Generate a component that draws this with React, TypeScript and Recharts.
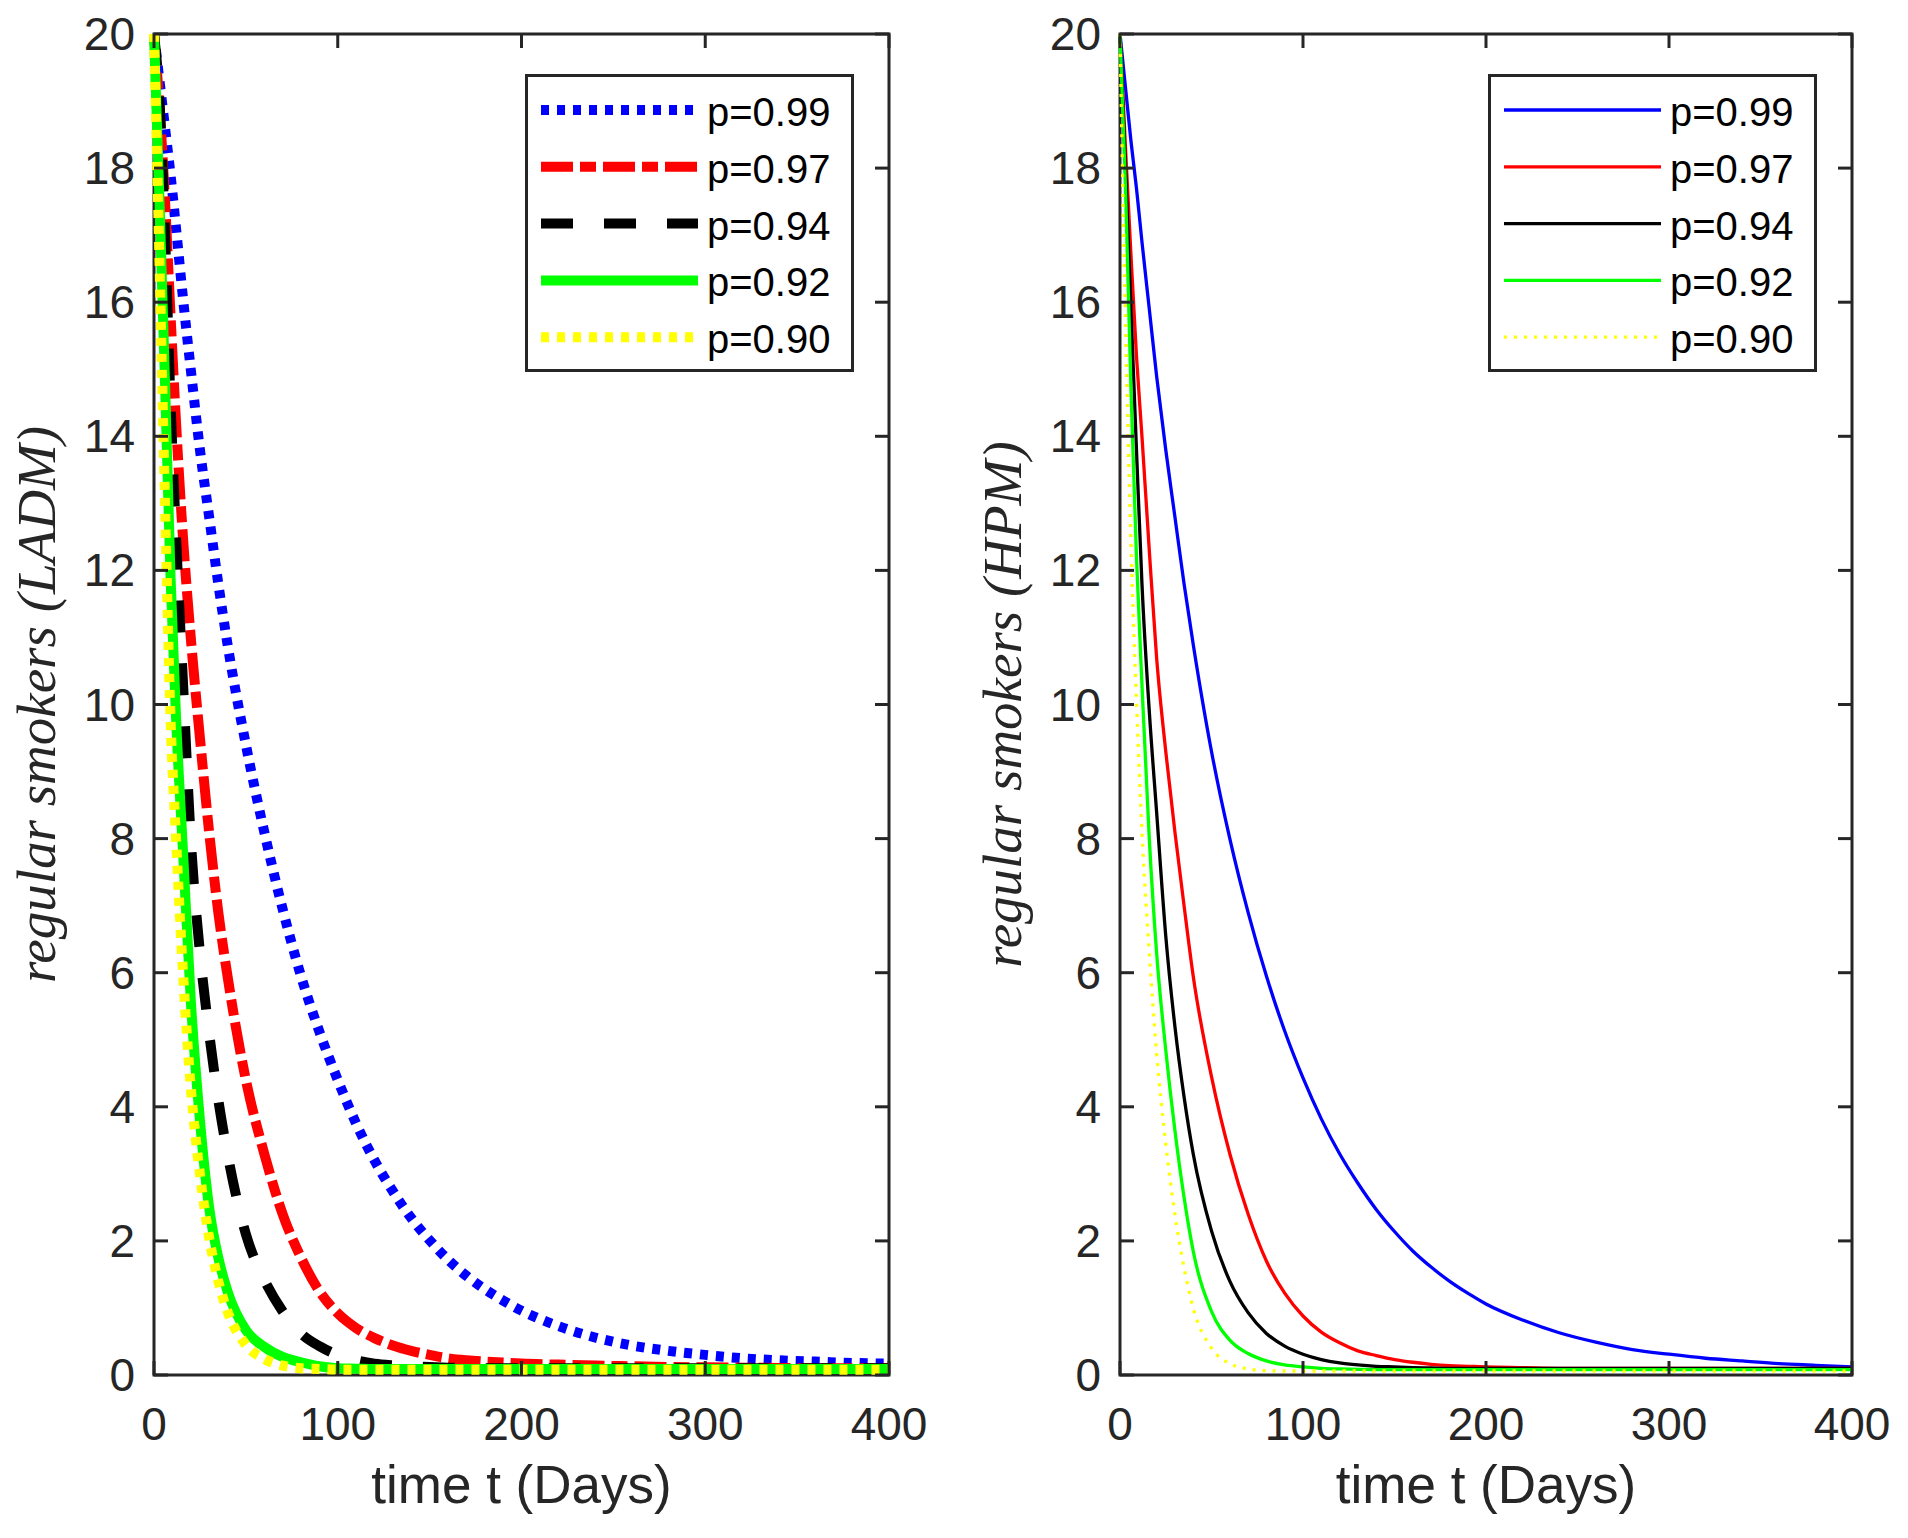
import { LineChart, Line, XAxis, YAxis, ReferenceArea, Legend, Label } from "recharts";

// time grid (days) shared by every curve
const DAYS = [0, 3, 6, 9, 12, 16, 20, 25, 30, 35, 40, 50, 60, 70, 80, 90, 100, 110, 120, 130, 140, 150, 160, 170, 180, 190, 200, 220, 240, 260, 280, 300, 320, 340, 360, 380, 400];

// left panel: LADM
const LADM_P99 = [20, 19.3, 18.6, 17.9, 17.1, 16.0, 15.0, 13.8, 12.8, 11.8, 10.9, 9.4, 8.1, 6.95, 5.95, 5.12, 4.4, 3.75, 3.2, 2.74, 2.34, 2.01, 1.72, 1.48, 1.28, 1.11, 0.96, 0.73, 0.56, 0.44, 0.36, 0.3, 0.25, 0.22, 0.2, 0.18, 0.17];
const LADM_P97 = [20, 18.9, 17.5, 15.8, 14.2, 12.4, 11.0, 9.5, 8.1, 6.9, 5.95, 4.4, 3.3, 2.4, 1.75, 1.25, 0.92, 0.7, 0.55, 0.44, 0.36, 0.3, 0.25, 0.22, 0.2, 0.185, 0.17, 0.155, 0.14, 0.13, 0.12, 0.115, 0.11, 0.105, 0.1, 0.1, 0.1];
const LADM_P94 = [20, 19.0, 17.0, 14.5, 12.5, 10.2, 8.0, 6.3, 5.1, 4.1, 3.3, 2.1, 1.42, 0.95, 0.62, 0.43, 0.3, 0.22, 0.17, 0.145, 0.13, 0.12, 0.11, 0.105, 0.1, 0.1, 0.1, 0.1, 0.1, 0.1, 0.1, 0.1, 0.1, 0.1, 0.1, 0.1, 0.1];
const LADM_P92 = [20, 17.5, 14.8, 11.9, 9.8, 7.7, 5.6, 3.8, 2.5, 1.75, 1.25, 0.67, 0.42, 0.27, 0.19, 0.13, 0.1, 0.095, 0.09, 0.09, 0.09, 0.09, 0.09, 0.09, 0.09, 0.09, 0.09, 0.09, 0.09, 0.09, 0.09, 0.09, 0.09, 0.09, 0.09, 0.09, 0.09];
const LADM_P90 = [20, 16.6, 13.0, 9.8, 8.0, 5.9, 4.3, 3.0, 2.05, 1.4, 0.95, 0.45, 0.24, 0.14, 0.1, 0.09, 0.08, 0.08, 0.08, 0.08, 0.08, 0.08, 0.08, 0.08, 0.08, 0.08, 0.08, 0.08, 0.08, 0.08, 0.08, 0.08, 0.08, 0.08, 0.08, 0.08, 0.08];

// right panel: HPM
const HPM_P99 = [20, 19.2, 18.4, 17.7, 16.9, 15.9, 14.9, 13.8, 12.8, 11.8, 10.9, 9.3, 8.0, 6.9, 5.95, 5.13, 4.43, 3.82, 3.3, 2.86, 2.47, 2.14, 1.85, 1.61, 1.4, 1.22, 1.06, 0.82, 0.63, 0.49, 0.38, 0.31, 0.25, 0.21, 0.17, 0.145, 0.12];
const HPM_P97 = [20, 18.3, 16.7, 15.2, 14.0, 12.3, 10.7, 9.3, 8.1, 7.0, 5.95, 4.45, 3.3, 2.4, 1.7, 1.22, 0.88, 0.64, 0.48, 0.36, 0.29, 0.23, 0.19, 0.16, 0.14, 0.13, 0.12, 0.11, 0.1, 0.1, 0.1, 0.1, 0.1, 0.1, 0.1, 0.1, 0.1];
const HPM_P94 = [20, 18.0, 15.9, 13.8, 11.8, 9.9, 8.4, 6.55, 5.2, 4.15, 3.3, 2.15, 1.4, 0.93, 0.62, 0.43, 0.31, 0.23, 0.18, 0.15, 0.13, 0.12, 0.11, 0.105, 0.1, 0.1, 0.1, 0.1, 0.1, 0.1, 0.1, 0.1, 0.1, 0.1, 0.1, 0.1, 0.1];
const HPM_P92 = [20, 17.7, 14.7, 12.2, 10.3, 8.0, 6.3, 4.85, 3.65, 2.65, 1.85, 0.95, 0.52, 0.32, 0.21, 0.15, 0.12, 0.1, 0.09, 0.085, 0.08, 0.08, 0.08, 0.08, 0.08, 0.08, 0.08, 0.08, 0.08, 0.08, 0.08, 0.08, 0.08, 0.08, 0.08, 0.08, 0.08];
const HPM_P90 = [20, 15.7, 12.4, 10.05, 8.1, 6.3, 4.8, 3.45, 2.4, 1.6, 1.0, 0.4, 0.17, 0.09, 0.065, 0.06, 0.06, 0.06, 0.06, 0.06, 0.06, 0.06, 0.06, 0.06, 0.06, 0.06, 0.06, 0.06, 0.06, 0.06, 0.06, 0.06, 0.06, 0.06, 0.06, 0.06, 0.06];

const P_LABELS = ["p=0.99", "p=0.97", "p=0.94", "p=0.92", "p=0.90"];
const KEYS = ["p99", "p97", "p94", "p92", "p90"];
const COLORS = ["#0000ff", "#ff0000", "#000000", "#00ff00", "#ffff00"];
const X_TICKS = [0, 100, 200, 300, 400];
const Y_TICKS = [0, 2, 4, 6, 8, 10, 12, 14, 16, 18, 20];

const LADM_DASH = ["8 8", "32 7 16 7", "32 31", undefined, "8 8"];
const HPM_DASH = [undefined, undefined, undefined, undefined, "3 7"];

const AXIS = "#262626";
const SANS = "'Liberation Sans', Arial, Helvetica, sans-serif";
const CHART_W = 954;
const CHART_H = 1538;
const PLOT_TOP = 34;
const X_AXIS_H = 163;
const PLOT_H = CHART_H - PLOT_TOP - X_AXIS_H;
const TICK_LEN = 14;

function buildRows(series: number[][]) {
  return DAYS.map((t, i) => {
    const row: Record<string, number> = { t };
    series.forEach((s, j) => {
      row[KEYS[j]] = s[i];
    });
    return row;
  });
}

type PanelProps = {
  series: number[][];
  dashes: (string | undefined)[];
  lineWidth: number;
  yLabel: string;
  yAxisW: number;
  rightM: number;
};

function LegendBox({ dashes, lineWidth }: { dashes: (string | undefined)[]; lineWidth: number }) {
  return (
    <svg width={329} height={298} style={{ display: "block" }}>
      <rect x={1.5} y={1.5} width={326} height={295} fill="#fff" stroke={AXIS} strokeWidth={3} />
      {P_LABELS.map((lab, i) => {
        const y = 36 + i * 56.8;
        return (
          <g key={lab}>
            <line x1={16} x2={173} y1={y} y2={y} stroke={COLORS[i]} strokeWidth={lineWidth} strokeDasharray={dashes[i]} />
            <text x={182} y={y + 16} fontSize={40} fontFamily={SANS} fill="#000">
              {lab}
            </text>
          </g>
        );
      })}
    </svg>
  );
}

function Panel({ series, dashes, lineWidth, yLabel, yAxisW, rightM }: PanelProps) {
  const plotW = CHART_W - yAxisW - rightM;
  const data = buildRows(series);

  const xTick = (p: any) => (
    <g>
      <line x1={p.x} x2={p.x} y1={p.y} y2={p.y - TICK_LEN} stroke={AXIS} strokeWidth={3} />
      <line x1={p.x} x2={p.x} y1={p.y - PLOT_H} y2={p.y - PLOT_H + TICK_LEN} stroke={AXIS} strokeWidth={3} />
      <text x={p.x} y={p.y + 65} textAnchor="middle" fontSize={46} fontFamily={SANS} fill={AXIS}>
        {p.payload.value}
      </text>
    </g>
  );

  const yTick = (p: any) => (
    <g>
      <line x1={p.x} x2={p.x + TICK_LEN} y1={p.y} y2={p.y} stroke={AXIS} strokeWidth={3} />
      <line x1={p.x + plotW} x2={p.x + plotW - TICK_LEN} y1={p.y} y2={p.y} stroke={AXIS} strokeWidth={3} />
      <text x={p.x - 19} y={p.y + 16} textAnchor="end" fontSize={46} fontFamily={SANS} fill={AXIS}>
        {p.payload.value}
      </text>
    </g>
  );

  const yLabelX = yAxisW - 99;
  const yLabelY = PLOT_TOP + PLOT_H / 2;

  return (
    <LineChart width={CHART_W} height={CHART_H} data={data} margin={{ top: PLOT_TOP, right: rightM, bottom: 0, left: 0 }}>
      <ReferenceArea x1={0} x2={400} y1={0} y2={20} fill="none" fillOpacity={0} stroke={AXIS} strokeWidth={3} />
      <XAxis
        dataKey="t"
        type="number"
        domain={[0, 400]}
        ticks={X_TICKS}
        interval={0}
        height={X_AXIS_H}
        axisLine={false}
        tickLine={false}
        tickSize={0}
        tickMargin={0}
        tick={xTick}
      >
        <Label
          content={() => (
            <text x={yAxisW + plotW / 2} y={1503} textAnchor="middle" fontSize={53} fontFamily={SANS} fill={AXIS}>
              time t (Days)
            </text>
          )}
        />
      </XAxis>
      <YAxis
        type="number"
        domain={[0, 20]}
        ticks={Y_TICKS}
        interval={0}
        width={yAxisW}
        axisLine={false}
        tickLine={false}
        tickSize={0}
        tickMargin={0}
        tick={yTick}
      >
        <Label
          content={() => (
            <text
              x={yLabelX}
              y={yLabelY}
              transform={`rotate(-90, ${yLabelX}, ${yLabelY})`}
              textAnchor="middle"
              fontSize={55}
              fontStyle="italic"
              fontFamily="'Liberation Serif', 'DejaVu Serif', serif"
              fill={AXIS}
            >
              {yLabel}
            </text>
          )}
        />
      </YAxis>
      {KEYS.map((k, i) => (
        <Line
          key={k}
          type="monotone"
          dataKey={k}
          name={P_LABELS[i]}
          stroke={COLORS[i]}
          strokeWidth={lineWidth}
          strokeDasharray={dashes[i]}
          dot={false}
          activeDot={false}
          isAnimationActive={false}
        />
      ))}
      <Legend
        layout="horizontal"
        verticalAlign="middle"
        align="center"
        wrapperStyle={{ left: yAxisW + plotW - 364, top: 74, width: 329, height: 298 }}
        content={() => <LegendBox dashes={dashes} lineWidth={lineWidth} />}
      />
    </LineChart>
  );
}

export default function App() {
  return (
    <div style={{ position: "absolute", left: 0, top: 0, width: 1908, height: 1538, background: "#fff" }}>
      <div style={{ position: "absolute", left: 0, top: 0 }}>
        <Panel
          series={[LADM_P99, LADM_P97, LADM_P94, LADM_P92, LADM_P90]}
          dashes={LADM_DASH}
          lineWidth={10}
          yLabel="regular smokers (LADM)"
          yAxisW={154}
          rightM={65}
        />
      </div>
      <div style={{ position: "absolute", left: 954, top: 0 }}>
        <Panel
          series={[HPM_P99, HPM_P97, HPM_P94, HPM_P92, HPM_P90]}
          dashes={HPM_DASH}
          lineWidth={3.3}
          yLabel="regular smokers (HPM)"
          yAxisW={166}
          rightM={56}
        />
      </div>
    </div>
  );
}
